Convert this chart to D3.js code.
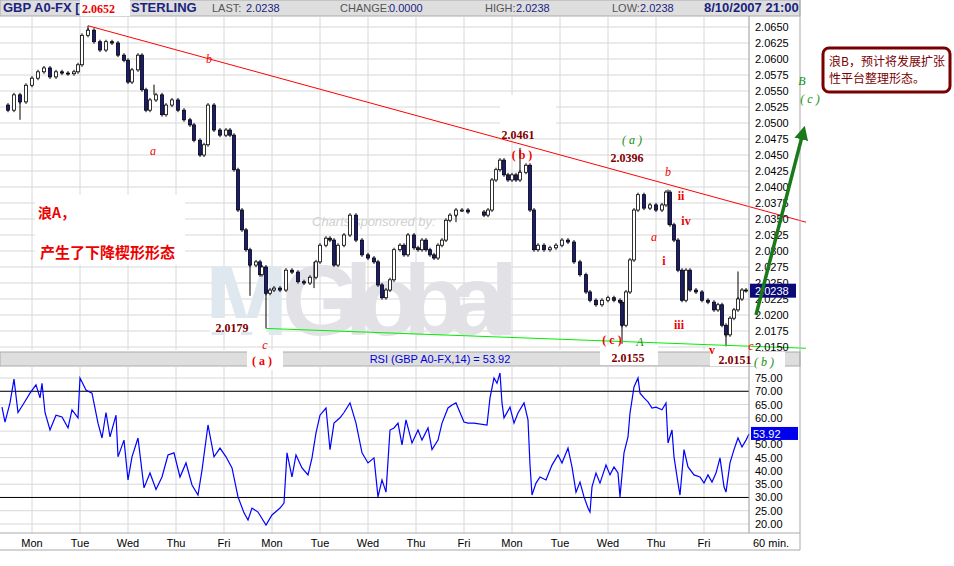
<!DOCTYPE html>
<html><head><meta charset="utf-8">
<script src="https://cdn.jsdelivr.net/npm/d3@7"></script>
<style>body{margin:0;background:#fff}svg{display:block;font-family:Arial,"Liberation Sans",sans-serif}</style>
</head><body><svg id="svg" width="954" height="566"></svg>
<script>
// hours from first Monday 00:00 (trading days only), hourly close of GBP
const hours = [-15,-12,-9,-6,-3,0,3,6,9,12,15,18,21,23,25,28,31,34,37,40,43,46,48,50,53,55,57,59,62,65,67,70,73,76,79,81,84,86,88,91,94,97,99,101,103,105,107,109,112,114,115,117,119,121,124,127,130,133,136,139,142,144,147,149,151,153,156,159,162,165,168,171,173,175,177,179,181,184,186,188,191,193,195,197,199,201,203,205,207,209,212,215,218,226,228,230,232,234,236,238,240,242,244,247,249,251,253,256,259,262,265,268,271,274,277,279,282,285,288,291,294,295,297,299,301,303,306,309,312,315,317,319,321,323,325,327,329,332,335,338,341,343,345,347,349,351,353,355,357];
const closes = [2.0528,2.0520,2.0544,2.0533,2.0559,2.0570,2.0580,2.0586,2.0572,2.0580,2.0578,2.0577,2.0580,2.0591,2.0637,2.0645,2.0627,2.0614,2.0627,2.0625,2.0606,2.0598,2.0564,2.0583,2.0606,2.0552,2.0520,2.0536,2.0544,2.0513,2.0528,2.0536,2.0520,2.0505,2.0497,2.0473,2.0450,2.0466,2.0528,2.0489,2.0481,2.0489,2.0481,2.0427,2.0364,2.0333,2.0302,2.0278,2.0283,2.0263,2.0275,2.0234,2.0239,2.0242,2.0239,2.0270,2.0267,2.0252,2.0250,2.0259,2.0283,2.0309,2.0320,2.0317,2.0278,2.0309,2.0325,2.0356,2.0317,2.0294,2.0289,2.0283,2.0247,2.0227,2.0239,2.0255,2.0302,2.0309,2.0294,2.0325,2.0305,2.0302,2.0317,2.0302,2.0294,2.0289,2.0309,2.0317,2.0348,2.0356,2.0364,2.0364,2.0361,2.0356,2.0364,2.0411,2.0427,2.0442,2.0419,2.0411,2.0419,2.0411,2.0423,2.0434,2.0364,2.0302,2.0309,2.0302,2.0305,2.0309,2.0317,2.0314,2.0283,2.0263,2.0236,2.0223,2.0216,2.0223,2.0227,2.0223,2.0220,2.0184,2.0236,2.0286,2.0364,2.0388,2.0367,2.0372,2.0364,2.0372,2.0392,2.0341,2.0317,2.0270,2.0223,2.0270,2.0239,2.0236,2.0223,2.0220,2.0208,2.0216,2.0184,2.0169,2.0195,2.0208,2.0225,2.0239,2.0238];
// long wicks at the marked turning points: [hour, extreme price]
const spikes = [[28,2.0652],[-6,2.0505],[109,2.0230],[117,2.0179],[244,2.0461],[212,2.0345],[295,2.0155],[318,2.0396],[347,2.0151],[353,2.0268],[141,2.0242],[61,2.0560]];
const rsiHours = [-15,-13.5,-11,-9,-7,-4,-1,2,4,5,6.5,9,12,15,18,20,23,24,27,30,33,35,37,39,42,43,46,48,50,53,56,59,62,65,68,71,74,77,80,83,85,88,91,94,97,100,103,106,108,110,113,117,120,124,126,127.5,130,132,135,138,140,142,144,147,149,151,154,156,159,162,165,168,171,173,175,177,179,181,183,185,187,190,193,195,198,200,203,205,208,210,212,214,216,218,221,227.5,229,231,232.5,234,235,236,239,241,243,246,248,249,250,252,254,257,260,263,265,268,270,272,274,276,278,279,280,282,284,287,289,291,293,294,296,298,299,301,303,304,306,308,310,312,315,317,318,320,321,323,324,326,328,331,334,336,338,340,342,344,346,347,349,351,353,355,357,358.5];
const rsi = [64,58.4,65.6,74.6,62,65.6,69.3,72.4,67.5,73,62,55.4,61,60.3,56.2,63,60,75,70.5,69.3,58,52.4,62,52.8,61,45.3,51.6,36.6,45.3,52.4,33.6,39.2,33,37.7,46,46.8,37.7,43,34.7,30.9,40.3,57.3,45.3,48.6,45.3,41.1,30.2,24.2,21.5,26,24.5,19.6,23.4,26,27.9,46.8,37.7,46,41.1,38.5,44.9,54.3,61,63.7,48,58,60,62,65.6,58,46.8,43,44.9,30.2,36.6,32,55.4,56.2,58,49.8,59.2,50.5,55.4,51.6,56.2,48,51.6,58,63.7,64.8,65.6,62,58.4,58,58,57.3,67.5,75,73,76.9,65.6,60,64,58,61.8,65.6,59.2,42.2,30.9,35.4,37.7,36.6,42.2,46,43,48.6,41.5,32,35.8,30.2,26,24.5,34,39.2,35.4,42.2,38.5,41.5,39.2,30.2,46.8,52.8,61.8,71.6,75,69.3,67.5,66,63.7,64,63,65.6,50.5,55.4,45.3,35.4,30.9,48,41.5,38.5,37.7,35.4,38.5,35.8,39.2,44.9,34,32,43,48,52.4,49,51.6,53.92];
const dayLabels = ["Mon","Tue","Wed","Thu","Fri","Mon","Tue","Wed","Thu","Fri","Mon","Tue","Wed","Thu","Fri"];
const priceTicks = d3.range(20, -1, -1).map(i => 2.015 + i * 0.0025);
const rsiTicks = d3.range(20, 76, 5);
const lastPrice = 2.0238, lastRsi = 53.92;
// wave labels: [hour, price, text, kind]
const notes = [
  [88.5,2.0594,"b","ri"],[60.5,2.0450,"a","ri"],[100,2.0174,"2.0179","n"],[116.5,2.0147,"c","ri"],
  [243,2.0475,"2.0461","n"],[245,2.0444,"( b )","rb"],[300,2.0467,"( a )","gi"],
  [297.5,2.0439,"2.0396","n"],[318,2.0417,"b","ri"],[324.5,2.0379,"ii","rb"],[327,2.0340,"iv","rb"],
  [311,2.0315,"a","ri"],[316,2.0278,"i","rb"],[323.5,2.0178,"iii","rb"],[340,2.0139,"v","rb"],
  [290,2.0155,"( c )","rb"],[304,2.0151,"A","gi"],[298,2.0126,"2.0155","n"],[351.5,2.0124,"2.0151","n"],
  [359.5,2.0145,"c","ri"],[366,2.0121,"( b )","gi"],[385,2.0560,"B","gi"],[389,2.0532,"( c )","gi"]
];

const svg = d3.select("#svg");
const x = d3.scaleLinear().domain([0, 336]).range([32, 704]);
const y = d3.scaleLinear().domain([2.015, 2.065]).range([347, 27]);
const yr = d3.scaleLinear().domain([20, 75]).range([524, 378]);
const axisX = 749, rightEdge = 800;

// header bars
[[0,16],[352,14]].forEach(([t,h]) => svg.append("rect").attr("x",0).attr("y",t).attr("width",rightEdge).attr("height",h)
  .attr("fill","#dedede").attr("stroke","#aaa"));
const hdr = [[3,"GBP A0-FX [1","#1a237e",true],[131,"STERLING","#1a237e",true],[212,"LAST:","#555"],[246,"2.0238","#1a237e"],
  [340,"CHANGE:","#555"],[389,"0.0000","#1a237e"],[485,"HIGH:","#555"],[516,"2.0238","#1a237e"],
  [612,"LOW:","#555"],[640,"2.0238","#1a237e"],[704,"8/10/2007 21:00","#1a237e",true]];
hdr.forEach(d => svg.append("text").attr("x",d[0]).attr("y",12).attr("fill",d[2])
  .attr("font-size",d[3]?13:11).attr("font-weight",d[3]?"bold":"normal").text(d[1]));
svg.append("text").attr("x",440).attr("y",363).attr("text-anchor","middle").attr("fill","#0000dd").attr("font-size",11)
  .text("RSI (GBP A0-FX,14) = 53.92");

// grids
const g = svg.append("g");
priceTicks.forEach(p => g.append("line").attr("x1",0).attr("x2",axisX).attr("y1",y(p)).attr("y2",y(p)).attr("stroke","#d8d8d8"));
rsiTicks.forEach(v => g.append("line").attr("x1",0).attr("x2",axisX).attr("y1",yr(v)).attr("y2",yr(v)).attr("stroke","#d8d8d8"));
dayLabels.forEach((d,i) => {
  [[17,350],[366,533]].forEach(([a,b]) => g.append("line").attr("x1",x(i*24)).attr("x2",x(i*24)).attr("y1",a).attr("y2",b).attr("stroke","#d8d8d8"));
  svg.append("text").attr("x",x(i*24)).attr("y",547).attr("text-anchor","middle").attr("font-size",11).text(d);
});
[70,30].forEach(v => g.append("line").attr("x1",0).attr("x2",axisX).attr("y1",yr(v)).attr("y2",yr(v)).attr("stroke","#000"));

// watermark
svg.append("text").attr("x",312).attr("y",226).attr("font-size",13).attr("font-style","italic").attr("fill","#d0d0d0").text("Charts sponsored by:");
svg.append("text").attr("x",205).attr("y",335).attr("font-size",100).attr("font-weight","bold").attr("fill","#dfe7ef").text("M");
svg.append("text").attr("x",282).attr("y",335).attr("font-size",100).attr("font-weight","bold").attr("fill","#e2e2e6").attr("textLength",236).text("Global");

// white label backs
[[35,195,150,70],[80,0,50,16],[210,318,56,14],[247,350,36,20],[500,95,56,40],[600,345,58,20],[710,346,50,20],[755,352,30,20]].forEach(r =>
  svg.append("rect").attr("x",r[0]).attr("y",r[1]).attr("width",r[2]).attr("height",r[3]).attr("fill","#fff"));

// candles
const candles = svg.append("g");
spikes.forEach(([h,p]) => {
  const i = d3.bisectLeft(hours, h), c = closes[Math.min(i, closes.length-1)];
  candles.append("line").attr("x1",x(h)).attr("x2",x(h)).attr("y1",y(p)).attr("y2",y(c)).attr("stroke","#000");
});
closes.forEach((c,i) => {
  if (i === 0) return;
  const o = closes[i-1], cx = x(hours[i]);
  candles.append("line").attr("x1",cx).attr("x2",cx).attr("y1",y(Math.max(o,c))-2).attr("y2",y(Math.min(o,c))+2).attr("stroke","#000");
  candles.append("rect").attr("x",cx-1.5).attr("width",3).attr("y",y(Math.max(o,c)))
    .attr("height",Math.max(1,Math.abs(y(o)-y(c)))).attr("fill",c<o?"#1a1a7a":"#fff").attr("stroke","#000").attr("stroke-width",0.8);
});

// trend lines
svg.append("line").attr("x1",x(28)).attr("y1",y(2.0652)).attr("x2",x(387)).attr("y2",y(2.0345)).attr("stroke","#ff0000");
svg.append("line").attr("x1",x(117)).attr("y1",y(2.0179)).attr("x2",x(387)).attr("y2",y(2.0148)).attr("stroke","#00ee00");

// RSI line
svg.append("path").datum(d3.zip(rsiHours, rsi)).attr("fill","none").attr("stroke","#0000ff").attr("stroke-width",1.2)
  .attr("d", d3.line().x(d=>x(d[0])).y(d=>yr(d[1])));

// axes
svg.append("line").attr("x1",axisX).attr("x2",axisX).attr("y1",16).attr("y2",533).attr("stroke","#999");
svg.append("line").attr("x1",rightEdge).attr("x2",rightEdge).attr("y1",0).attr("y2",550).attr("stroke","#aaa");
svg.append("line").attr("x1",0).attr("x2",rightEdge).attr("y1",533).attr("y2",533).attr("stroke","#aaa");
svg.append("line").attr("x1",0).attr("x2",rightEdge).attr("y1",550).attr("y2",550).attr("stroke","#aaa");
svg.append("g").attr("transform",`translate(${axisX},0)`)
  .call(d3.axisRight(y).tickValues(priceTicks).tickSize(0).tickPadding(6).tickFormat(d3.format(".4f")))
  .call(a => {a.select(".domain").remove(); a.selectAll("text").attr("font-size",11).attr("font-family","Arial");});
svg.append("g").attr("transform",`translate(${axisX},0)`)
  .call(d3.axisRight(yr).tickValues(rsiTicks).tickSize(0).tickPadding(6).tickFormat(d3.format(".2f")))
  .call(a => {a.select(".domain").remove(); a.selectAll("text").attr("font-size",11).attr("font-family","Arial");});
svg.append("text").attr("x",753).attr("y",547).attr("font-size",11).text("60 min.");
svg.append("rect").attr("x",750).attr("y",y(lastPrice)-7).attr("width",46).attr("height",14).attr("fill","#0a0a78");
svg.append("text").attr("x",755).attr("y",y(lastPrice)+4).attr("fill","#fff").attr("font-size",11).text(d3.format(".4f")(lastPrice));
svg.append("rect").attr("x",751).attr("y",yr(lastRsi)-7).attr("width",47).attr("height",13).attr("fill","#0000ee");
svg.append("text").attr("x",753).attr("y",yr(lastRsi)+4).attr("fill","#fff").attr("font-size",11).text(lastRsi);

// peak label & annotations
svg.append("text").attr("x",82).attr("y",13).attr("fill","#ee0000").attr("font-weight","bold").attr("font-size",12)
  .attr("font-family","Liberation Serif").text("2.0652");
svg.append("text").attr("x",262).attr("y",365).attr("text-anchor","middle").attr("fill","#ee0000").attr("font-weight","bold")
  .attr("font-size",12).attr("font-family","Liberation Serif").text("( a )");
notes.forEach(([h,p,t,k]) => svg.append("text").attr("x",x(h)).attr("y",y(p)).attr("text-anchor","middle")
  .attr("font-family","Liberation Serif").attr("font-size",12)
  .attr("font-style",k.endsWith("i")?"italic":"normal").attr("font-weight",k==="ri"||k==="gi"?"normal":"bold")
  .attr("fill",k==="n"?"#800000":k[0]==="g"?"#109010":"#ee0000").text(t));
svg.append("text").attr("x",38).attr("y",218).attr("fill","#ee0000").attr("font-weight","bold").attr("font-size",14)
  .attr("font-family","Noto Sans CJK SC").text("浪A，");
svg.append("text").attr("x",40).attr("y",258).attr("fill","#ee0000").attr("font-weight","bold").attr("font-size",15)
  .attr("font-family","Noto Sans CJK SC").text("产生了下降楔形形态");

// green arrow
svg.append("defs").append("marker").attr("id","ah").attr("viewBox","0 0 10 10").attr("refX",5).attr("refY",5)
  .attr("markerWidth",4).attr("markerHeight",4).attr("orient","auto")
  .append("path").attr("d","M0,0L10,5L0,10z").attr("fill","#1a7a1a");
svg.append("line").attr("x1",x(362)).attr("y1",y(2.0200)).attr("x2",x(385.5)).attr("y2",y(2.0485))
  .attr("stroke","#1a7a1a").attr("stroke-width",3.5).attr("marker-end","url(#ah)");

// callout
svg.append("rect").attr("x",823).attr("y",48).attr("width",127).attr("height",44).attr("rx",6)
  .attr("fill","#fff").attr("stroke","#7a0000").attr("stroke-width",3);
[["浪B，预计将发展扩张",66],["性平台整理形态。",83]].forEach(([t,yy]) => svg.append("text").attr("x",829).attr("y",yy)
  .attr("fill","#7a0000").attr("font-size",12).attr("font-family","Noto Sans CJK SC").text(t));
</script></body></html>
